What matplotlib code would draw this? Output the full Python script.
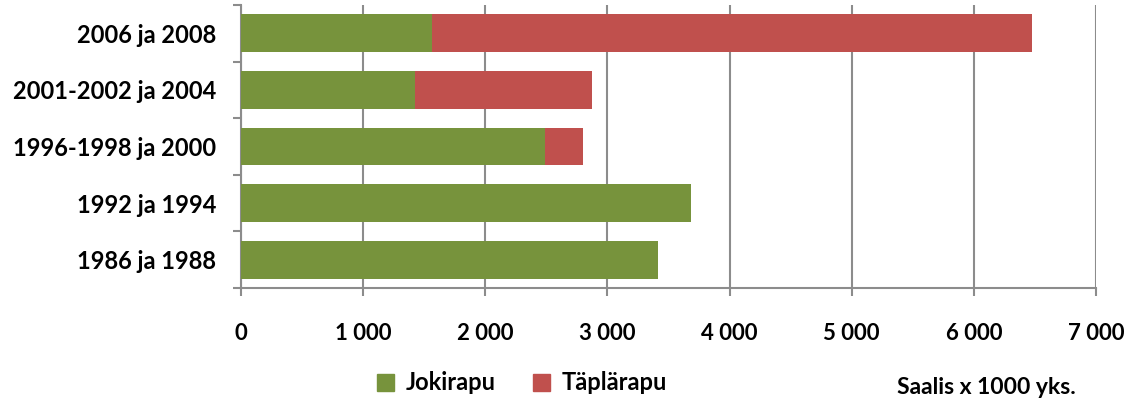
import matplotlib
matplotlib.use("Agg")
import matplotlib.pyplot as plt
import numpy as np
from matplotlib.patches import Patch

categories = ["1986 ja 1988", "1992 ja 1994", "1996-1998 ja 2000", "2001-2002 ja 2004", "2006 ja 2008"]
jokirapu = [3418, 3686, 2488, 1424, 1560]
taplarapu = [0, 0, 314, 1447, 4918]
xticks = [0, 1000, 2000, 3000, 4000, 5000, 6000, 7000]
xticklabels = ["0", "1 000", "2 000", "3 000", "4 000", "5 000", "6 000", "7 000"]

green = "#77933C"
red = "#C0504D"
grid = "#8C8C8C"

plt.rcParams["font.family"] = ["Lato", "DejaVu Sans"]
plt.rcParams["font.weight"] = "bold"

fig = plt.figure(figsize=(11.28, 4), dpi=100)
ax = fig.add_axes([241 / 1128, 112 / 400, 855 / 1128, 283 / 400])

y = np.arange(len(categories))
ax.barh(y, jokirapu, height=0.67, color=green, zorder=3, label="Jokirapu")
ax.barh(y, taplarapu, left=jokirapu, height=0.67, color=red, zorder=3, label="Täplärapu")

ax.set_xlim(0, 7000)
ax.set_ylim(-0.5, len(categories) - 0.5)
ax.set_xticks(xticks)
ax.set_xticklabels(xticklabels, fontsize=16, fontweight="bold")
ax.set_yticks(y)
ax.set_yticklabels(categories, fontsize=17, fontweight="bold")
ax.set_yticks(np.arange(-0.5, len(categories)), minor=True)
ax.tick_params(axis="y", which="major", length=0, pad=18)
ax.tick_params(axis="y", which="minor", length=6, width=1.5, color=grid, direction="out")
ax.tick_params(axis="x", which="major", length=6, width=1.5, color=grid, direction="out", pad=19)

ax.grid(axis="x", color=grid, linewidth=1.5, zorder=0)
for s in ["top", "right"]:
    ax.spines[s].set_visible(False)
for s in ["left", "bottom"]:
    ax.spines[s].set_color(grid)
    ax.spines[s].set_linewidth(1.5)

handles = [Patch(color=green, label="Jokirapu"), Patch(color=red, label="Täplärapu")]
fig.legend(handles=handles, loc="center", bbox_to_anchor=(522 / 1128, 1 - 383 / 400),
           ncol=2, frameon=False, handlelength=0.7, handleheight=0.7,
           handletextpad=0.5, columnspacing=1.6, prop={"weight": "bold", "size": 17})

fig.text(986 / 1128, 1 - 387 / 400, "Saalis x 1000 yks.", ha="center", va="center",
         fontsize=16.5, fontweight="bold")

fig.savefig("out.png", dpi=100)
